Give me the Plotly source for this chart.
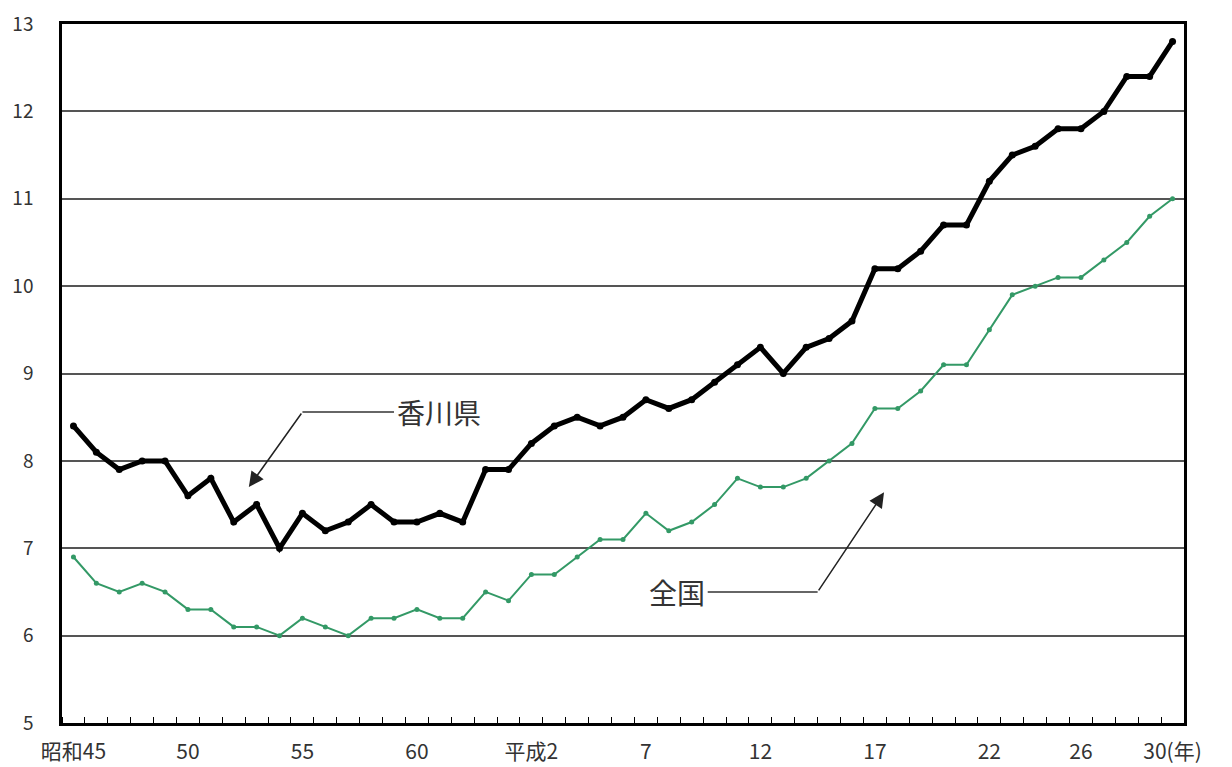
import plotly.graph_objects as go

years = list(range(49))  # 昭和45 (1970) ... 平成30 (2018)
kagawa = [8.4, 8.1, 7.9, 8.0, 8.0, 7.6, 7.8, 7.3, 7.5, 7.0,
          7.4, 7.2, 7.3, 7.5, 7.3, 7.3, 7.4, 7.3, 7.9, 7.9,
          8.2, 8.4, 8.5, 8.4, 8.5, 8.7, 8.6, 8.7, 8.9, 9.1,
          9.3, 9.0, 9.3, 9.4, 9.6, 10.2, 10.2, 10.4, 10.7, 10.7,
          11.2, 11.5, 11.6, 11.8, 11.8, 12.0, 12.4, 12.4, 12.8]
zenkoku = [6.9, 6.6, 6.5, 6.6, 6.5, 6.3, 6.3, 6.1, 6.1, 6.0,
           6.2, 6.1, 6.0, 6.2, 6.2, 6.3, 6.2, 6.2, 6.5, 6.4,
           6.7, 6.7, 6.9, 7.1, 7.1, 7.4, 7.2, 7.3, 7.5, 7.8,
           7.7, 7.7, 7.8, 8.0, 8.2, 8.6, 8.6, 8.8, 9.1, 9.1,
           9.5, 9.9, 10.0, 10.1, 10.1, 10.3, 10.5, 10.8, 11.0]
label_pos = [0, 5, 10, 15, 20, 25, 30, 35, 40, 44, 48]
label_text = ["昭和45", "50", "55", "60", "平成2", "7", "12", "17", "22", "26", "30(年)"]
y_ticks = [5, 6, 7, 8, 9, 10, 11, 12, 13]

FONT = "Noto Sans CJK JP"
GREEN = "#339966"

fig = go.Figure()
fig.add_trace(go.Scatter(x=years, y=zenkoku, mode="lines+markers",
                         line=dict(color=GREEN, width=2),
                         marker=dict(color=GREEN, size=5),
                         name="全国", showlegend=False))
fig.add_trace(go.Scatter(x=years, y=kagawa, mode="lines+markers",
                         line=dict(color="black", width=5),
                         marker=dict(color="black", size=7),
                         name="香川県", showlegend=False))

# leader lines
fig.add_shape(type="line", x0=14.0, y0=8.56, x1=10.0, y1=8.56,
              line=dict(color="#333333", width=1.5))
fig.add_annotation(x=7.66, y=7.70, ax=10.0, ay=8.56, axref="x", ayref="y",
                   xref="x", yref="y", text="", showarrow=True,
                   arrowhead=2, arrowsize=2, arrowwidth=1.5, arrowcolor="#222222")
fig.add_annotation(x=14.05, y=8.56, text="香川県", showarrow=False,
                   xanchor="left", yanchor="middle",
                   font=dict(family=FONT, size=28, color="#333333"))

fig.add_shape(type="line", x0=27.7, y0=6.50, x1=32.5, y1=6.50,
              line=dict(color="#333333", width=1.5))
fig.add_annotation(x=35.4, y=7.64, ax=32.5, ay=6.50, axref="x", ayref="y",
                   xref="x", yref="y", text="", showarrow=True,
                   arrowhead=2, arrowsize=2, arrowwidth=1.5, arrowcolor="#222222")
fig.add_annotation(x=27.65, y=6.50, text="全国", showarrow=False,
                   xanchor="right", yanchor="middle",
                   font=dict(family=FONT, size=28, color="#333333"))

fig.update_layout(
    width=1224, height=759,
    margin=dict(l=54, r=48, t=16, b=44),
    paper_bgcolor="white", plot_bgcolor="white",
    font=dict(family=FONT, color="#333333"),
    xaxis=dict(range=[-0.5, 48.5], tickvals=label_pos, ticktext=label_text,
               ticks="", showgrid=False, zeroline=False, automargin=False,
               showline=True, linecolor="black", linewidth=2.5, mirror=True,
               ticklabelstandoff=8,
               tickfont=dict(family=FONT, size=21, color="#333333"),
               minor=dict(ticks="inside", ticklen=6, tickcolor="black",
                          tick0=0.5, dtick=1, showgrid=False)),
    yaxis=dict(range=[5, 13], tickvals=y_ticks, ticks="", automargin=False,
               showgrid=True, gridcolor="#555555", gridwidth=1.5,
               zeroline=False, showline=True, linecolor="black",
               linewidth=2.5, mirror=True, ticklabelstandoff=22,
               tickfont=dict(family=FONT, size=19, color="#333333")),
)

fig.write_html("out.html")
